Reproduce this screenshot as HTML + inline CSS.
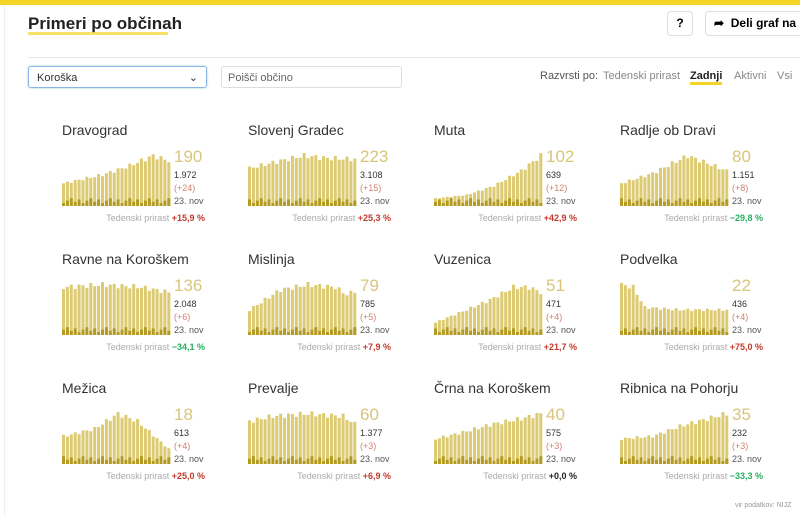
<!DOCTYPE html><html><head><meta charset="utf-8"><style>
body{margin:0;width:800px;height:516px;overflow:hidden;background:#fff;font-family:"Liberation Sans",sans-serif;position:relative}
.a{position:absolute;white-space:nowrap}
.t{font-size:14px;color:#333}
.big{font-size:17px;color:#d9c57a}
.s{font-size:9px;color:#333}
.lab{font-size:9px;color:#aaa;text-align:right}
</style></head><body>
<div class="a" style="left:0;top:0;width:800px;height:5px;background:#f5d426"></div>
<div class="a" style="left:4px;top:5px;width:1px;height:511px;background:#eee"></div>
<div class="a" style="left:28px;top:14px;font-size:17px;font-weight:bold;color:#222">Primeri po občinah</div>
<div class="a" style="left:28px;top:32px;width:140px;height:3px;background:#f5d426;opacity:.7"></div>
<div class="a" style="left:667px;top:11px;width:24px;height:23px;border:1px solid #ddd;border-radius:4px;text-align:center;line-height:23px;font-size:12px;font-weight:bold">?</div>
<div class="a" style="left:705px;top:11px;width:100px;height:23px;border:1px solid #ddd;border-radius:4px;line-height:23px;font-size:12px;font-weight:bold;padding-left:8px">➦ &nbsp;Deli graf na</div>
<div class="a" style="left:28px;top:57px;width:772px;height:1px;background:#e8e8e8"></div>
<div class="a" style="left:28px;top:66px;width:179px;height:22px;border:1px solid #8ab4e8;border-radius:3px;box-shadow:0 0 2px #9cc;font-size:11px;line-height:22px;color:#333;padding-left:8px;box-sizing:border-box">Koroška<span style="position:absolute;right:8px">⌄</span></div>
<div class="a" style="left:221px;top:66px;width:181px;height:22px;border:1px solid #ddd;border-radius:3px;font-size:11px;line-height:22px;color:#666;padding-left:6px;box-sizing:border-box">Poišči občino</div>
<div class="a" style="left:540px;top:70px;font-size:11px;color:#555">Razvrsti po:</div>
<div class="a" style="left:603px;top:70px;font-size:11px;color:#888">Tedenski prirast</div>
<div class="a" style="left:690px;top:70px;font-size:11px;font-weight:bold;color:#222;border-bottom:3px solid #f5d426">Zadnji</div>
<div class="a" style="left:734px;top:70px;font-size:11px;color:#888">Aktivni</div>
<div class="a" style="left:777px;top:70px;font-size:11px;color:#888">Vsi</div>
<div class="a" style="left:735px;top:502px;font-size:7px;color:#999">vir podatkov: NIJZ</div>
<div id="c"></div>
<script>
var D=[
["Dravograd","190","1.972","(+24)","+15,9 %","r",[[0,.45],[10,.62],[17,.8],[23,1],[27,.9]]],
["Slovenj Gradec","223","3.108","(+15)","+25,3 %","r",[[0,.75],[8,.9],[14,1],[20,.95],[27,.93]]],
["Muta","102","639","(+12)","+42,9 %","r",[[0,.15],[8,.22],[15,.4],[22,.7],[27,1]]],
["Radlje ob Dravi","80","1.151","(+8)","−29,8 %","g",[[0,.45],[8,.65],[17,1],[22,.85],[27,.7]]],
["Ravne na Koroškem","136","2.048","(+6)","−34,1 %","g",[[0,.95],[10,1],[20,.95],[27,.85]]],
["Mislinja","79","785","(+5)","+7,9 %","r",[[0,.5],[8,.9],[15,1],[22,.95],[25,.8],[27,.88]]],
["Vuzenica","51","471","(+4)","+21,7 %","r",[[0,.25],[8,.5],[14,.7],[20,.95],[24,.95],[27,.85]]],
["Podvelka","22","436","(+4)","+75,0 %","r",[[0,1],[3,.95],[6,.55],[15,.5],[27,.5]]],
["Mežica","18","613","(+4)","+25,0 %","r",[[0,.55],[8,.7],[14,1],[19,.85],[27,.3]]],
["Prevalje","60","1.377","(+3)","+6,9 %","r",[[0,.85],[6,.95],[15,1],[24,.95],[27,.8]]],
["Črna na Koroškem","40","575","(+3)","+0,0 %","k",[[0,.5],[8,.65],[15,.8],[22,.9],[27,1]]],
["Ribnica na Pohorju","35","232","(+3)","−33,3 %","g",[[0,.5],[8,.55],[15,.75],[22,.9],[27,1]]]];
function interp(k,i){for(var j=0;j<k.length-1;j++){if(i<=k[j+1][0]){var f=(i-k[j][0])/(k[j+1][0]-k[j][0]);return k[j][1]+f*(k[j+1][1]-k[j][1]);}}return k[k.length-1][1];}
var h="";
D.forEach(function(d,n){var cx=[62,248,434,620][n%4],cy=[121,250,379][Math.floor(n/4)];
h+='<div class="a t" style="left:'+cx+'px;top:'+(cy+1)+'px">'+d[0]+'</div>';
var s='<svg class="a" style="left:'+cx+'px;top:'+(cy+27)+'px" width="110" height="58">';
for(var i=0;i<28;i++){var v=interp(d[6],i)*(0.95+0.05*Math.sin(i*2.3+n));var hh=v*53;var x=i*3.9;
s+='<rect x="'+x+'" y="'+(58-hh)+'" width="3" height="'+hh+'" fill="#ddcb74"/>';
var dh=3+((i*7+n*3)%5)*1.2;s+='<rect x="'+x+'" y="'+(58-dh)+'" width="3" height="'+dh+'" fill="#b39a22"/>';}
s+='</svg>';h+=s;
h+='<div class="a big" style="left:'+(cx+112)+'px;top:'+(cy+26)+'px">'+d[1]+'</div>';
h+='<div class="a s" style="left:'+(cx+112)+'px;top:'+(cy+49)+'px">'+d[2]+'</div>';
h+='<div class="a s" style="left:'+(cx+112)+'px;top:'+(cy+62)+'px;color:#d08070">'+d[3]+'</div>';
h+='<div class="a s" style="left:'+(cx+112)+'px;top:'+(cy+75)+'px;color:#555">23. nov</div>';
var col=d[5]=="r"?"#c0392b":d[5]=="g"?"#27ae60":"#222";
h+='<div class="a lab" style="right:'+(800-cx-143)+'px;top:'+(cy+92)+'px">Tedenski prirast <b style="color:'+col+'">'+d[4]+'</b></div>';});
document.getElementById("c").innerHTML=h;
</script></body></html>
